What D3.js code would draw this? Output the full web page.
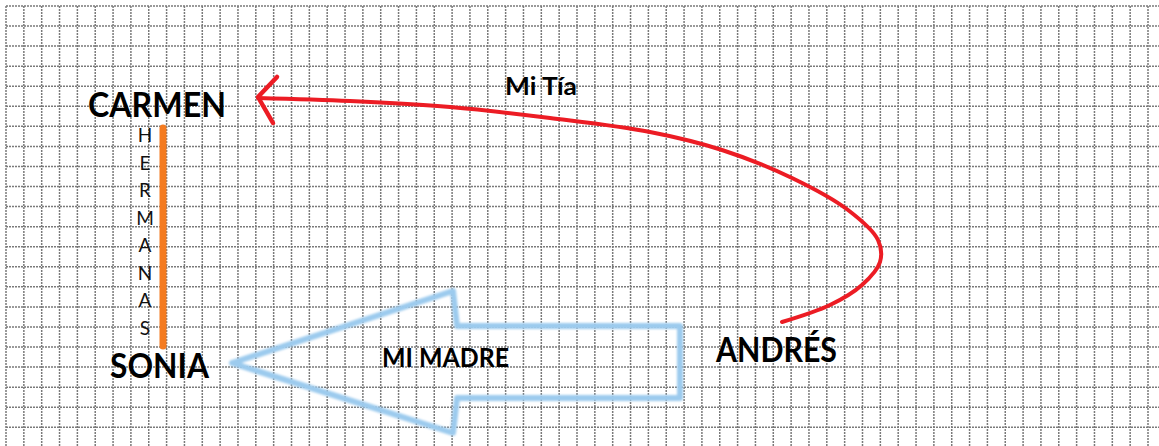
<!DOCTYPE html>
<html lang="es">
<head>
  <meta charset="utf-8">
  <title>Familia</title>
  <script src="https://d3js.org/d3.v7.min.js"></script>
  <style>
    body { margin: 0; background: #fff; }
    svg { display: block; }
  </style>
</head>
<body>
<script type="text/javascript">

var svg_width = 1159;
var svg_height = 446;

// grid: columns and rows of the squared paper
var gridCols = 64;
var gridRows = 21;

// people and link labels
var names = ["CARMEN", "SONIA", "ANDRÉS"];
var nameX = [88, 110, 716];
var nameY = [117, 378, 362];
var nameW = [138, 99, 121];

var links = ["Mi Tía", "MI MADRE"];
var linkX = [505, 382];
var linkY = [95, 367];
var linkW = [72, 127];

var sisterLetters = "HERMANAS".split("");

// red curve (Andrés -> Carmen), in pixels
var tiaCurve = [[782, 322], [830, 305], [862, 285], [880, 262], [878, 240],
                [848, 210], [792, 178], [722, 150], [650, 132], [550, 118],
                [450, 107], [350, 101], [258, 98]];
var tiaHead = [[277, 77], [258, 97], [273, 123]];

// blue block arrow (Andrés -> Sonia)
var madreArrow = [[232, 363], [453, 291], [457, 326], [680, 326], [680, 398],
                  [457, 398], [453, 433], [232, 363]];

var svg = d3.select("body")
  .append("svg")
  .attr("width", svg_width)
  .attr("height", svg_height);

var x = d3.scaleLinear().domain([0, gridCols]).range([6, 1148]);
var y = d3.scaleLinear().domain([0, gridRows]).range([6, 427.3]);

// grid lines (dotted)
var grid = svg.append("g")
  .attr("stroke", "#7a7a7a")
  .attr("stroke-width", 1.5)
  .attr("stroke-dasharray", "2,1");

grid.selectAll("line.v")
  .data(d3.range(gridCols + 1))
  .enter()
    .append("line")
    .attr("class", "v")
    .attr("x1", function(d) { return x(d); })
    .attr("x2", function(d) { return x(d); })
    .attr("y1", 6)
    .attr("y2", svg_height);

grid.selectAll("line.h")
  .data(d3.range(gridRows + 1))
  .enter()
    .append("line")
    .attr("class", "h")
    .attr("x1", 6)
    .attr("x2", svg_width)
    .attr("y1", function(d) { return y(d); })
    .attr("y2", function(d) { return y(d); });

var defs = svg.append("defs");
defs.append("filter")
  .attr("id", "soft")
  .append("feGaussianBlur")
  .attr("stdDeviation", 0.8);

// blue arrow
svg.append("path")
  .attr("d", d3.line()(madreArrow))
  .attr("fill", "none")
  .attr("stroke", "#9ccbee")
  .attr("stroke-width", 6)
  .attr("stroke-linejoin", "round")
  .attr("stroke-linecap", "round")
  .attr("filter", "url(#soft)");

// red curve + head
svg.append("path")
  .attr("d", d3.line().curve(d3.curveCatmullRom.alpha(0.5))(tiaCurve))
  .attr("fill", "none")
  .attr("stroke", "#ec1c24")
  .attr("stroke-width", 4)
  .attr("stroke-linecap", "round");

svg.append("path")
  .attr("d", d3.line()(tiaHead))
  .attr("fill", "none")
  .attr("stroke", "#ec1c24")
  .attr("stroke-width", 4.5)
  .attr("stroke-linecap", "round")
  .attr("stroke-linejoin", "round");

// orange "hermanas" bar
svg.append("line")
  .attr("x1", 163).attr("x2", 163)
  .attr("y1", 128).attr("y2", 346)
  .attr("stroke", "#f47b20")
  .attr("stroke-width", 7)
  .attr("stroke-linecap", "round");

svg.selectAll("text.sis")
  .data(sisterLetters)
  .enter()
    .append("text")
    .attr("class", "sis")
    .text(function(d) { return d; })
    .attr("x", 145)
    .attr("y", function(d, i) { return 135 + i * 27.5 + 7; })
    .attr("text-anchor", "middle")
    .attr("font-family", "Lato, 'Open Sans', sans-serif")
    .attr("font-size", "19px")
    .attr("fill", "#111");

// names
svg.selectAll("text.name")
  .data(names)
  .enter()
    .append("text")
    .attr("class", "name")
    .text(function(d) { return d; })
    .attr("x", function(d, i) { return nameX[i]; })
    .attr("y", function(d, i) { return nameY[i]; })
    .attr("textLength", function(d, i) { return nameW[i]; })
    .attr("lengthAdjust", "spacingAndGlyphs")
    .attr("font-family", "Lato, 'Open Sans', sans-serif")
    .attr("font-weight", "bold")
    .attr("font-size", "34px")
    .attr("fill", "#000");

// link labels
svg.selectAll("text.link")
  .data(links)
  .enter()
    .append("text")
    .attr("class", "link")
    .text(function(d) { return d; })
    .attr("x", function(d, i) { return linkX[i]; })
    .attr("y", function(d, i) { return linkY[i]; })
    .attr("textLength", function(d, i) { return linkW[i]; })
    .attr("lengthAdjust", "spacingAndGlyphs")
    .attr("font-family", "Lato, 'Open Sans', sans-serif")
    .attr("font-weight", "bold")
    .attr("font-size", function(d, i) { return i == 0 ? "24px" : "26px"; })
    .attr("fill", "#000");

</script>
</body>
</html>
